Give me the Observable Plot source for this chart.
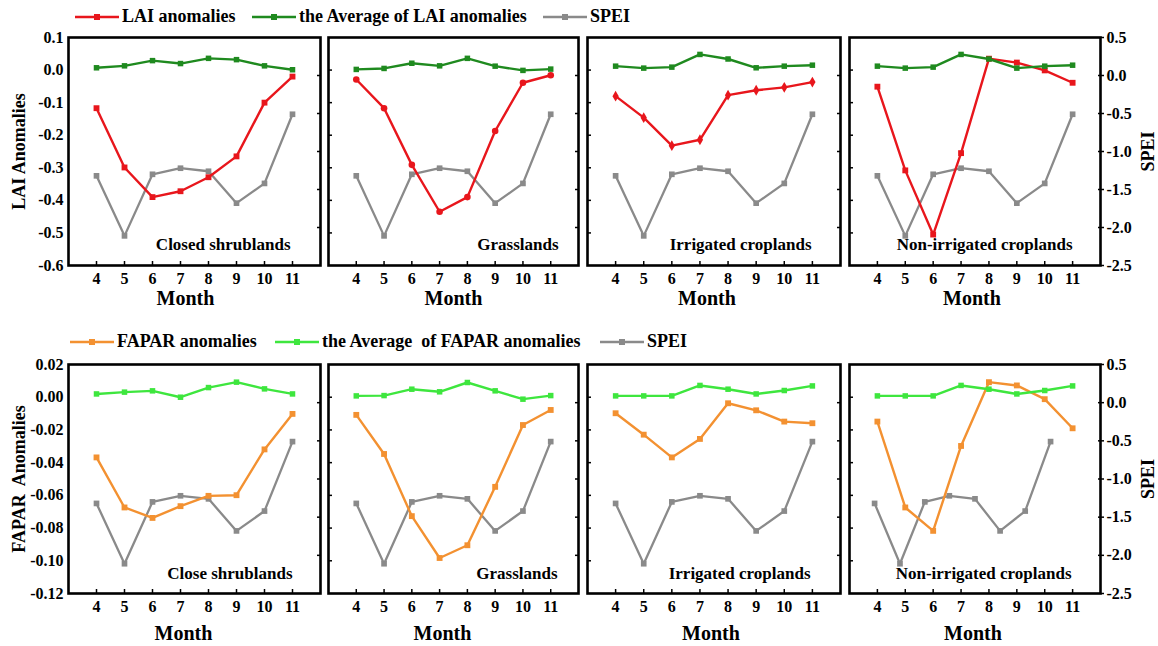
<!DOCTYPE html>
<html>
<head>
<meta charset="utf-8">
<script src="https://cdn.jsdelivr.net/npm/d3@7"></script>
<script src="https://cdn.jsdelivr.net/npm/@observablehq/plot@0.6"></script>
<style>
  body { margin: 0; background: #fff; }
  #chart { position: relative; width: 1158px; height: 646px; overflow: hidden; background: #fff;
           font-family: "Liberation Serif", "Times New Roman", serif; font-weight: bold; color: #000; }
  .legend { position: absolute; display: flex; align-items: center; font-size: 18px; white-space: pre; line-height: 21px; }
  .legend svg { display: block; margin-right: 3px; }
  .panel { position: absolute; }
</style>
</head>
<body>
<div id="chart"></div>
<script>
// ---------------- data ----------------
const months = [4, 5, 6, 7, 8, 9, 10, 11];
const landCoverTop = ["Closed shrublands", "Grasslands", "Irrigated croplands", "Non-irrigated croplands"];
const landCoverBottom = ["Close shrublands", "Grasslands", "Irrigated croplands", "Non-irrigated croplands"];

const spei = [-1.32, -2.11, -1.30, -1.22, -1.26, -1.68, -1.42, -0.51];
// SPEI in the last FAPAR panel is drawn slightly shifted along the month axis
const speiMonthsFaparNonIrr = [3.9, 4.81, 5.7, 6.58, 7.5, 8.4, 9.3, 10.21];

const laiClosed  = [-0.117, -0.299, -0.390, -0.372, -0.329, -0.265, -0.100, -0.020];
const laiGrass   = [-0.029, -0.117, -0.291, -0.435, -0.390, -0.187, -0.039, -0.016];
const laiIrr     = [-0.080, -0.146, -0.232, -0.214, -0.077, -0.062, -0.053, -0.037];
const laiNonIrr  = [-0.051, -0.308, -0.505, -0.255, 0.035, 0.023, -0.001, -0.039];

const laiAvgClosed = [0.007, 0.013, 0.029, 0.020, 0.036, 0.032, 0.013, 0.001];
const laiAvgGrass  = [0.002, 0.005, 0.021, 0.013, 0.036, 0.012, -0.001, 0.003];
const laiAvgIrr    = [0.012, 0.006, 0.009, 0.048, 0.034, 0.007, 0.012, 0.015];
const laiAvgNonIrr = [0.012, 0.006, 0.009, 0.048, 0.034, 0.006, 0.012, 0.015];

const faparClosed = [-0.0368, -0.0674, -0.0738, -0.0666, -0.0603, -0.0599, -0.0319, -0.0102];
const faparGrass  = [-0.0108, -0.0347, -0.0727, -0.0983, -0.0905, -0.0548, -0.0170, -0.0078];
const faparIrr    = [-0.0098, -0.0229, -0.0368, -0.0255, -0.0037, -0.0080, -0.0149, -0.0159];
const faparNonIrr = [-0.0149, -0.0674, -0.0817, -0.0298, 0.0092, 0.0072, -0.0012, -0.0190];

const faparAvgClosed = [0.0020, 0.0031, 0.0039, 0.0000, 0.0059, 0.0092, 0.0051, 0.0020];
const faparAvgGrass  = [0.0008, 0.0010, 0.0049, 0.0033, 0.0090, 0.0039, -0.0012, 0.0010];
const faparAvgIrr    = [0.0008, 0.0008, 0.0008, 0.0072, 0.0049, 0.0020, 0.0041, 0.0069];
const faparAvgNonIrr = [0.0008, 0.0008, 0.0008, 0.0072, 0.0049, 0.0020, 0.0041, 0.0069];

const laiTicks   = [0.1, 0, -0.1, -0.2, -0.3, -0.4, -0.5, -0.6];
const faparTicks = [0.02, 0, -0.02, -0.04, -0.06, -0.08, -0.10, -0.12];
const speiTicks  = [0.5, 0, -0.5, -1.0, -1.5, -2.0, -2.5];

// ---------------- styling / layout ----------------
const GRAY = "#8a8a8a";
const panelLeft  = [68, 328, 587, 849];
const panelRight = [320, 578, 840, 1100];
const speiDomain = [-2.5, 0.5];

const rows = [
  {
    top: 37, bottom: 265, domain: [-0.6, 0.1], ticks: laiTicks, digits: 1,
    anomaly: [laiClosed, laiGrass, laiIrr, laiNonIrr],
    avg: [laiAvgClosed, laiAvgGrass, laiAvgIrr, laiAvgNonIrr],
    speiX: [months, months, months, months],
    anomalyColor: "#e8161c", avgColor: "#1f8a1f",
    symbols: ["square", "circle", "diamond", "square"],
    labels: landCoverTop, title: "LAI Anomalies",
    monthDy: 39, monthDx: [-9, 0, -7, -3], labelDx: [-30, -20, -29, -28], labelDy: -16,
    legendTop: 6,
    legend: [
      {left: 75, color: "#e8161c", text: "LAI anomalies"},
      {left: 252, color: "#1f8a1f", text: "the Average of LAI anomalies"},
      {left: 543, color: GRAY, text: "SPEI"}
    ]
  },
  {
    top: 364, bottom: 593, domain: [-0.12, 0.02], ticks: faparTicks, digits: 2,
    anomaly: [faparClosed, faparGrass, faparIrr, faparNonIrr],
    avg: [faparAvgClosed, faparAvgGrass, faparAvgIrr, faparAvgNonIrr],
    speiX: [months, months, months, speiMonthsFaparNonIrr],
    anomalyColor: "#f39131", avgColor: "#3ee63e",
    symbols: ["square", "square", "square", "square"],
    labels: landCoverBottom, title: "FAPAR  Anomalies",
    monthDy: 46, monthDx: [-11, -11, -3, -2], labelDx: [-28, -21, -30, -29], labelDy: -15,
    legendTop: 331,
    legend: [
      {left: 70, color: "#f39131", text: "FAPAR anomalies"},
      {left: 275, color: "#3ee63e", text: "the Average  of FAPAR anomalies"},
      {left: 600, color: GRAY, text: "SPEI"}
    ]
  }
];

const chart = document.getElementById("chart");

function legendItem({left, color, text}, top) {
  const div = document.createElement("div");
  div.className = "legend";
  div.style.left = left + "px";
  div.style.top = top + "px";
  div.innerHTML = `<svg width="44" height="12"><line x1="0" y1="6" x2="44" y2="6" stroke="${color}" stroke-width="2.4"/><rect x="19" y="3" width="6" height="6" fill="${color}"/></svg><span>${text}</span>`;
  chart.appendChild(div);
}

rows.forEach((row, r) => {
  row.legend.forEach(item => legendItem(item, row.legendTop));
  const [yMin, yMax] = row.domain;
  const toY = s => yMin + (s - speiDomain[0]) * (yMax - yMin) / (speiDomain[1] - speiDomain[0]);
  const fromY = y => speiDomain[0] + (y - yMin) * (speiDomain[1] - speiDomain[0]) / (yMax - yMin);
  const speiLabel = y => (Math.round(fromY(y) * 10) / 10 + 0).toFixed(1);
  const innerTicks = row.ticks.slice(1, -1);
  const innerSpei = speiTicks.slice(1, -1);

  for (let i = 0; i < 4; i++) {
    const data = months.map((m, k) => ({
      month: m,
      anomaly: row.anomaly[i][k],
      avg: row.avg[i][k],
      spei: toY(spei[k]),
      speiMonth: row.speiX[i][k]
    }));
    const mL = i === 0 ? 68 : 4;
    const mR = i === 3 ? 58 : 4;
    const mT = 4, mB = 52;
    const pw = panelRight[i] - panelLeft[i];
    const ph = row.bottom - row.top;

    const marks = [
      Plot.line(data, {x: "speiMonth", y: "spei", stroke: GRAY, strokeWidth: 2.3}),
      Plot.dot(data, {x: "speiMonth", y: "spei", symbol: "square", fill: GRAY, r: 3.2}),
      Plot.line(data, {x: "month", y: "anomaly", stroke: row.anomalyColor, strokeWidth: 2.4}),
      Plot.dot(data, {x: "month", y: "anomaly", symbol: row.symbols[i], fill: row.anomalyColor, r: 3.3}),
      Plot.line(data, {x: "month", y: "avg", stroke: row.avgColor, strokeWidth: 2.4}),
      Plot.dot(data, {x: "month", y: "avg", symbol: "square", fill: row.avgColor, r: 3.1}),
      // x axis: inward tick marks + labels
      Plot.axisX({ticks: months, tickSize: -4, strokeWidth: 1.5, fill: "none", label: null}),
      Plot.axisX({ticks: months, tickSize: 0, tickPadding: 7, label: null, fontSize: 16, tickFormat: d => String(d)}),
      Plot.text(["Month"], {frameAnchor: "bottom", lineAnchor: "bottom", dy: row.monthDy, dx: row.monthDx[i], fontSize: 20}),
      Plot.text([row.labels[i]], {frameAnchor: "bottom-right", textAnchor: "end", lineAnchor: "bottom", dx: row.labelDx[i], dy: row.labelDy, fontSize: 17}),
    ];
    if (i === 0) {
      marks.push(Plot.axisY({anchor: "left", ticks: row.ticks, tickSize: 0, tickPadding: 5, label: null, fontSize: 16,
                             tickFormat: d => d.toFixed(row.digits)}));
      marks.push(Plot.text([row.title], {frameAnchor: "left", rotate: -90, dx: -49, textAnchor: "middle", lineAnchor: "middle", fontSize: 18}));
    } else {
      marks.push(Plot.axisY({anchor: "left", ticks: innerTicks, tickSize: -4, strokeWidth: 1.5, fill: "none", label: null}));
    }
    if (i === 3) {
      marks.push(Plot.axisY({anchor: "right", ticks: speiTicks.map(toY), tickSize: 3, strokeWidth: 1.5, tickPadding: 3, label: null, fontSize: 16,
                             tickFormat: speiLabel}));
      marks.push(Plot.axisY({anchor: "right", ticks: innerSpei.map(toY), tickSize: -3, strokeWidth: 1.5, fill: "none", label: null}));
      marks.push(Plot.text(["SPEI"], {frameAnchor: "right", rotate: -90, dx: 48, textAnchor: "middle", lineAnchor: "middle", fontSize: 18}));
    } else {
      marks.push(Plot.axisY({anchor: "right", ticks: innerSpei.map(toY), tickSize: -4, strokeWidth: 1.5, fill: "none", label: null}));
    }
    marks.push(Plot.frame({stroke: "#000", strokeWidth: 2.6}));

    const svg = Plot.plot({
      width: mL + pw + mR,
      height: mT + ph + mB,
      marginLeft: mL, marginRight: mR, marginTop: mT, marginBottom: mB,
      x: {domain: [3, 12]},
      y: {domain: row.domain},
      style: {fontFamily: "Liberation Serif, Times New Roman, serif", fontWeight: "bold", fontSize: "16px",
              color: "#000", background: "transparent", overflow: "visible"},
      marks
    });
    const wrap = document.createElement("div");
    wrap.className = "panel";
    wrap.style.left = (panelLeft[i] - mL) + "px";
    wrap.style.top = (row.top - mT) + "px";
    wrap.appendChild(svg);
    chart.appendChild(wrap);
  }
});
</script>
</body>
</html>
